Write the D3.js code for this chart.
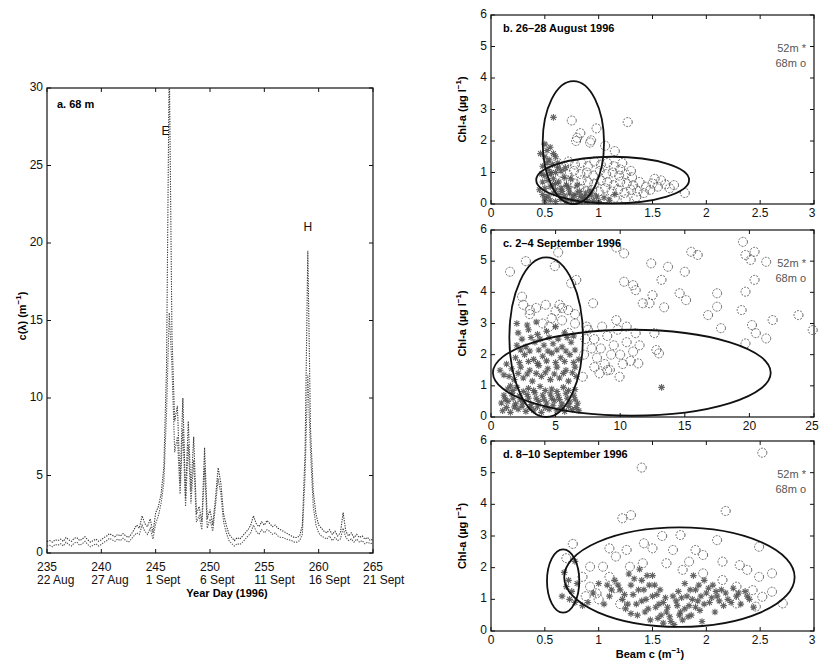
<!DOCTYPE html>
<html>
<head>
<meta charset="utf-8">
<script src="https://cdn.jsdelivr.net/npm/d3@7"></script>
<style>
  body { margin: 0; background: #fff; }
  svg { font-family: "Liberation Sans", Arial, sans-serif; }
</style>
</head>
<body>
<div id="chart"></div>
<script>
// ---- panel a: beam c at 68 m, two traces read every 6 h ----
const days = d3.range(235, 265.001, 0.25);
const traceUpper = [
  0.75, 0.8, 0.7, 0.85,   0.8, 0.9, 0.75, 1.0,    0.85, 0.75, 0.95, 1.0,
  0.8, 0.9, 1.05, 0.85,   0.7, 0.8, 0.9, 0.75,    0.85, 1.0, 1.1, 1.25,
  1.15, 1.05, 1.2, 1.1,   1.25, 1.1, 1.0, 1.2,    1.5, 1.8, 1.6, 2.4,
  1.9, 1.7, 2.2, 1.3,     2.6, 3.0, 3.8, 5.5,     12, 32, 14, 8.5,
  9.5, 4.5, 10, 3.5,      8.5, 4.0, 7.5, 2.5,     3.0, 2.0, 6.8, 2.2,
  2.8, 1.8, 3.5, 5.5,     4.5, 2.5, 1.8, 1.2,     1.0, 0.8, 1.0, 0.9,
  1.1, 1.3, 1.5, 1.8,     2.4, 1.9, 1.7, 2.0,     1.8, 2.1, 1.9, 1.7,
  1.8, 1.6, 1.5, 1.4,     1.3, 1.2, 1.1, 1.0,     1.0, 1.1, 1.8, 6.5,
  19.5, 8.0, 4.0, 2.5,    1.8, 1.6, 1.4, 1.3,     1.5, 1.2, 1.4, 1.1,
  1.3, 2.6, 1.4, 1.1,     1.3, 1.0, 1.2, 1.0,     1.1, 0.9, 1.0, 0.8,
  0.9
];
const traceLower = [
  0.45, 0.5, 0.4, 0.55,   0.5, 0.6, 0.45, 0.7,    0.55, 0.45, 0.65, 0.7,
  0.5, 0.6, 0.75, 0.55,   0.4, 0.5, 0.6, 0.45,    0.55, 0.7, 0.8, 0.95,
  0.85, 0.75, 0.9, 0.8,   0.95, 0.8, 0.7, 0.9,    1.1, 1.3, 1.2, 1.8,
  1.4, 1.2, 1.6, 0.9,     1.9, 2.4, 3.2, 4.5,     9, 15.5, 12, 6.5,
  7.5, 3.8, 8, 3.0,       7, 3.2, 6, 2.0,         2.4, 1.5, 5.5, 1.6,
  2.2, 1.4, 3, 4.8,       3.8, 2.0, 1.3, 0.8,     0.6, 0.45, 0.6, 0.55,
  0.7, 0.9, 1.1, 1.3,     1.8, 1.4, 1.2, 1.5,     1.3, 1.5, 1.4, 1.2,
  1.3, 1.1, 1.0, 1.0,     0.9, 0.85, 0.8, 0.7,    0.7, 0.8, 1.2, 5,
  11.5, 6.5, 3, 1.8,      1.3, 1.1, 1.0, 0.9,     1.1, 0.8, 1.0, 0.8,
  0.9, 1.6, 1.0, 0.8,     0.9, 0.7, 0.9, 0.7,     0.8, 0.6, 0.7, 0.6,
  0.65
];
const dayTicks = [235, 240, 245, 250, 255, 260, 265];
const dateLabels = ["22 Aug", "27 Aug", "1 Sept", "6 Sept", "11 Sept", "16 Sept", "21 Sept"];
const cTicks = [0, 5, 10, 15, 20, 25, 30];
const eventMarks = [{ label: "E", day: 245.9, value: 27 }, { label: "H", day: 259.0, value: 20.8 }];

// ---- panel b: 26-28 August ----
const bStars = [
  [0.5,1.9],[0.52,1.7],[0.55,1.8],[0.58,1.6],[0.5,1.5],[0.54,1.4],[0.6,1.5],[0.48,1.2],[0.53,1.1],
  [0.57,1.25],[0.62,1.3],[0.5,0.9],[0.55,0.95],[0.6,1.0],[0.65,1.05],[0.48,0.7],[0.53,0.75],[0.58,0.8],
  [0.63,0.7],[0.68,0.85],[0.5,0.5],[0.55,0.55],[0.6,0.45],[0.65,0.5],[0.7,0.6],[0.48,0.3],[0.53,0.25],
  [0.58,0.35],[0.63,0.3],[0.68,0.25],[0.73,0.35],[0.5,0.1],[0.55,0.12],[0.6,0.08],[0.65,0.15],[0.7,0.1],
  [0.75,0.12],[0.8,0.08],[0.85,0.15],[0.9,0.1],[0.95,0.12],[1.0,0.08],[0.78,0.3],[0.83,0.25],[0.88,0.35],
  [0.93,0.28],[0.58,2.75],
  [0.46,1.6],[0.52,1.3],[0.56,1.0],[0.6,0.65],[0.66,0.4],[0.72,0.5],[0.76,0.22],[0.82,0.4],[0.87,0.22],
  [0.92,0.42],[0.98,0.25],[1.05,0.2],[1.1,0.12],[1.15,0.3],[0.62,1.15],[0.47,0.95],[0.57,0.6],[0.69,1.15],
  [0.74,0.8],[0.8,0.6],[0.5,0.2],[0.45,0.45]
];
const bCircles = [
  [0.62,1.3],[0.68,1.2],[0.72,1.35],[0.78,1.25],[0.84,1.3],[0.9,1.2],[0.96,1.35],[1.02,1.25],[1.08,1.3],
  [1.14,1.2],[1.2,1.1],[0.65,1.0],[0.71,0.95],[0.77,1.05],[0.83,0.95],[0.89,1.0],[0.95,0.9],[1.01,1.05],
  [1.07,0.95],[1.13,1.0],[1.19,0.9],[1.25,0.95],[1.31,0.85],[0.66,0.7],[0.72,0.75],[0.78,0.65],[0.84,0.75],
  [0.9,0.7],[0.96,0.65],[1.02,0.75],[1.08,0.7],[1.14,0.6],[1.2,0.7],[1.26,0.65],[1.32,0.6],[1.38,0.7],
  [1.44,0.55],[0.7,0.45],[0.76,0.4],[0.82,0.5],[0.88,0.4],[0.94,0.45],[1.0,0.4],[1.06,0.5],[1.12,0.4],
  [1.18,0.45],[1.24,0.35],[1.3,0.45],[1.36,0.4],[1.42,0.35],[1.48,0.45],[0.75,0.2],[0.85,0.15],[0.95,0.22],
  [1.05,0.18],[1.15,0.2],[1.25,0.15],[1.35,0.22],
  [0.75,2.65],[1.27,2.6],[0.98,2.4],[0.83,2.25],[0.79,2.0],[0.8,2.1],[0.92,1.95],[0.93,2.02],[1.06,1.85],
  [1.15,1.68],[1.22,1.3],[1.3,1.05],[1.52,0.8],[1.58,0.75],[1.62,0.62],[1.66,0.5],[1.8,0.35],[1.55,0.55],
  [1.7,0.6],[1.5,0.65]
];
const bEllipses = [[0.765, 1.95, 0.285, 1.95], [1.13, 0.76, 0.71, 0.74]]; // cx, cy, rx, ry

// ---- panel c: 2-4 September ----
const cStars = [
  [0.9,0.2],[1.5,0.15],[2.1,0.25],[2.7,0.18],[3.3,0.22],[3.9,0.15],[4.5,0.25],[5.1,0.2],[5.7,0.18],
  [6.3,0.24],[6.8,0.2],[0.8,0.45],[1.3,0.5],[1.9,0.42],[2.5,0.48],[3.1,0.4],[3.7,0.5],[4.3,0.45],
  [4.9,0.52],[5.5,0.42],[6.1,0.48],[6.7,0.44],[1.0,0.7],[1.6,0.75],[2.2,0.68],[2.8,0.72],[3.4,0.78],
  [4.0,0.7],[4.6,0.74],[5.2,0.68],[5.8,0.76],[6.4,0.7],[1.3,0.9],[2.0,0.95],[2.9,0.92],[3.8,0.98],
  [4.7,0.9],[5.6,0.95],[6.5,0.88],
  [1.2,0.3],[1.8,0.32],[2.4,0.35],[3.0,0.3],[3.6,0.33],[4.2,0.3],[4.8,0.36],[5.4,0.3],[6.0,0.34],[6.6,0.3],
  [1.1,0.58],[1.7,0.6],[2.3,0.55],[2.9,0.6],[3.5,0.6],[4.1,0.57],[4.7,0.6],[5.3,0.56],[5.9,0.6],[6.5,0.57],
  [1.7,0.85],[2.5,0.82],[3.3,0.85],[4.2,0.85],[5.1,0.82],[6.0,0.85],
  [1.8,1.2],[2.5,1.25],[3.2,1.15],[3.9,1.3],[4.6,1.2],[5.3,1.25],[6.0,1.15],[6.6,1.3],
  [1.6,1.55],[2.3,1.6],[3.0,1.5],[3.7,1.65],[4.4,1.55],[5.1,1.6],[5.8,1.5],[6.5,1.6],
  [1.9,1.9],[2.6,2.0],[3.3,1.85],[4.0,1.95],[4.7,2.05],[5.4,1.9],[6.1,2.0],[6.8,1.85],
  [2.0,2.3],[2.7,2.25],[3.4,2.4],[4.1,2.3],[4.8,2.35],[5.5,2.25],[6.2,2.4],
  [2.1,2.7],[2.9,2.8],[3.6,2.65],[4.3,2.75],[5.0,2.9],[5.7,2.7],[6.4,2.6],
  [2.0,3.0],[2.8,2.95],[3.5,3.05],[0.7,1.5],[1.0,1.35],[1.2,1.7],[13.2,0.95],
  [2.1,1.4],[2.8,1.38],[3.5,1.4],[4.2,1.42],[4.9,1.38],[5.6,1.4],[6.3,1.42],[2.2,1.75],[2.9,1.78],
  [3.6,1.72],[4.3,1.8],[5.0,1.75],[5.7,1.78],[6.4,1.75],[2.3,2.15],[3.0,2.12],[3.7,2.15],[4.4,2.12],
  [5.1,2.15],[5.8,2.12],[6.5,2.15],[2.4,2.5],[3.1,2.55],[3.8,2.5],[4.5,2.55],[5.2,2.5],[5.9,2.55],
  [1.5,1.0],[1.4,1.3]
];
const cCircles = [
  [1.47,4.66],[2.7,5.0],[5.2,5.28],[4.94,4.84],[6.6,4.4],[6.2,4.29],[4.24,3.6],[5.3,3.6],[2.4,3.86],
  [3.0,3.43],[5.97,3.43],[7.9,3.65],[4.7,3.17],[7.4,2.9],[9.7,5.44],[10.3,5.25],[10.3,4.34],[11.0,4.23],
  [11.2,4.07],[11.75,3.65],[12.27,3.65],[12.5,3.91],[12.4,4.93],[13.2,4.4],[13.7,4.82],[13.4,3.52],
  [15.0,4.66],[14.6,3.97],[15.1,3.75],[15.5,5.3],[16.0,5.2],[16.8,3.27],[17.5,3.97],[17.5,3.54],
  [17.8,2.85],[19.5,5.62],[19.7,5.2],[20.1,5.04],[20.4,5.3],[21.3,4.98],[20.4,4.4],[19.7,4.02],
  [19.4,3.43],[20.2,2.95],[20.5,2.69],[21.3,2.52],[19.7,2.36],[21.8,3.11],[23.8,3.27],[24.9,2.79],
  [9.7,3.11],[10.5,2.9],[11.2,2.69],[12.65,2.69],[11.4,1.72],[13.0,2.04],[12.8,2.15],[9.95,1.29],
  [9.2,1.51],[8.4,1.4],[7.1,1.29],
  [7.5,2.8],[8,2.5],[8.5,2.2],[9,2.6],[9.5,2.3],[10,2.0],[10.5,2.4],[11,2.1],[8.2,1.9],[8.8,1.7],
  [9.3,2.0],[10.2,1.7],[7.8,2.2],[8.6,2.9],[9.8,2.8],[10.8,1.8],[11.5,2.3],[7.2,2.0],[8,1.6],[9,1.5],
  [7.3,2.5],[6.5,3.0],[6.0,2.7],[5.5,3.1],[4,3.0],[3,3.3],[2.5,3.6],[3.5,3.5],[5.5,3.5],[5,3.4],
  [6.5,3.3],[4.5,2.9]
];
const cEllipses = [[4.27, 2.56, 2.85, 2.56], [10.9, 1.42, 10.75, 1.38]];

// ---- panel d: 8-10 September ----
const dStars = [
  [0.68,1.85],[0.72,1.6],[0.7,1.4],[0.75,1.25],[0.66,1.1],[0.73,1.0],[0.78,0.9],[0.8,1.5],[0.78,2.2],
  [1.15,1.6],[1.2,1.3],[1.22,1.0],[1.25,0.7],[1.28,1.8],[1.3,1.45],[1.32,1.15],[1.35,0.85],[1.36,0.5],
  [1.38,1.95],[1.4,1.6],[1.42,1.3],[1.44,1.0],[1.46,0.7],[1.48,0.35],[1.5,1.75],[1.52,1.45],[1.54,1.15],
  [1.56,0.85],[1.58,0.5],[1.6,0.25],[1.62,1.05],[1.64,0.75],[1.66,0.45],[1.7,0.2],[1.72,0.95],[1.74,1.25],
  [1.76,0.6],[1.78,0.35],[1.8,1.5],[1.82,1.1],[1.84,0.8],[1.86,0.5],[1.88,1.75],[1.9,1.3],[1.92,0.95],
  [1.94,0.65],[1.96,0.3],[1.98,1.6],[2.0,1.2],[2.03,0.9],[2.06,1.45],[2.08,0.6],[2.1,1.1],[2.14,1.3],
  [2.16,0.8],[2.2,1.0],[2.25,1.35],[2.28,1.1],[2.32,0.85],[2.36,1.25],[2.4,1.0],[2.44,0.75],[1.1,1.1],
  [1.05,0.85],[0.95,1.2],[0.9,0.9],[0.85,0.8],[1.0,1.5],
  [1.18,1.45],[1.24,1.15],[1.27,0.85],[1.3,0.55],[1.33,1.65],[1.37,1.3],[1.4,0.95],[1.43,0.6],[1.45,1.75],
  [1.47,1.45],[1.5,1.1],[1.53,0.75],[1.55,0.4],[1.57,1.3],[1.6,0.9],[1.63,0.6],[1.67,0.3],[1.69,1.1],
  [1.73,0.8],[1.75,0.5],[1.77,1.05],[1.8,0.7],[1.83,0.45],[1.85,1.3],[1.87,1.0],[1.9,0.75],[1.93,1.45],
  [1.95,1.1],[1.98,0.85],[2.02,1.35],[2.05,1.05],[2.09,1.25],[2.12,0.95],[2.18,1.2],[2.23,0.9],[2.3,1.2],
  [2.38,1.1],[1.12,1.3],[1.08,1.45]
];
const dCircles = [
  [2.52,5.63],[1.40,5.16],[1.22,3.56],[1.30,3.66],[2.18,3.79],[1.59,3.0],[1.76,3.03],[1.42,2.77],
  [2.10,2.87],[2.49,2.66],[0.76,2.75],[0.70,2.3],[1.10,2.61],[1.16,2.35],[1.26,2.56],[1.50,2.61],
  [1.69,2.56],[1.90,2.56],[1.97,2.4],[1.84,2.19],[2.15,2.19],[2.31,2.08],[2.38,1.93],[2.49,1.71],
  [2.61,1.82],[2.61,1.24],[2.71,0.87],[1.04,2.03],[0.92,2.03],[0.85,1.71],[0.92,1.40],[0.98,1.19],
  [1.10,1.71],[1.29,2.03],[1.41,2.14],[1.63,2.14],[1.78,1.93],[1.97,1.82],[2.15,1.61],[2.28,1.40],
  [2.43,1.29],[2.52,1.08],[2.28,0.87],[2.46,0.77],[1.0,1.0],[1.15,1.35],[1.2,0.85],[0.88,1.1]
];
const dEllipses = [[0.67, 1.58, 0.15, 1.0], [1.75, 1.7, 1.07, 1.57]];

const beamTicks = [0, 0.5, 1, 1.5, 2, 2.5, 3];
const beamTicksWide = [0, 5, 10, 15, 20, 25];
const chlTicks = [0, 1, 2, 3, 4, 5, 6];

const width = 819, height = 664;
const svg = d3.select("#chart").append("svg")
  .attr("width", width).attr("height", height);

const ink = "#111";
const tickLen = 4;

// inward ticks on all four sides, MATLAB style
function frame(g, x, y, xt, yt) {
  const [x0, x1] = x.range(), [y0, y1] = y.range();
  g.append("rect").attr("x", x0).attr("y", y1).attr("width", x1 - x0).attr("height", y0 - y1)
    .attr("fill", "none").attr("stroke", ink).attr("stroke-width", 1.2);
  xt.forEach(t => {
    g.append("line").attr("x1", x(t)).attr("x2", x(t)).attr("y1", y0).attr("y2", y0 - tickLen).attr("stroke", ink);
    g.append("line").attr("x1", x(t)).attr("x2", x(t)).attr("y1", y1).attr("y2", y1 + tickLen).attr("stroke", ink);
  });
  yt.forEach(t => {
    g.append("line").attr("x1", x0).attr("x2", x0 + tickLen).attr("y1", y(t)).attr("y2", y(t)).attr("stroke", ink);
    g.append("line").attr("x1", x1).attr("x2", x1 - tickLen).attr("y1", y(t)).attr("y2", y(t)).attr("stroke", ink);
  });
  g.selectAll(".ylab").data(yt).join("text")
    .attr("x", x0 - 4).attr("y", d => y(d) + 3)
    .attr("text-anchor", "end").attr("font-size", 12).attr("fill", ink)
    .text(d => d);
}

// ---------- panel a ----------
const xa = d3.scaleLinear().domain([235, 265]).range([47, 373]);
const ya = d3.scaleLinear().domain([0, 30]).range([553, 88]);
const ga = svg.append("g");

svg.append("clipPath").attr("id", "clipA").append("rect")
  .attr("x", 47).attr("y", 88).attr("width", 326).attr("height", 465);

const line = d3.line().x((d, i) => xa(days[i])).y(d => ya(d));
[traceUpper, traceLower].forEach((tr, k) => {
  ga.append("path").datum(tr)
    .attr("clip-path", "url(#clipA)")
    .attr("d", line)
    .attr("fill", "none")
    .attr("stroke", k === 0 ? "#333" : "#555")
    .attr("stroke-width", 1.1)
    .attr("stroke-dasharray", "1.3,1.2");
});

frame(ga, xa, ya, dayTicks, cTicks);

const xlab = ga.selectAll(".xlab").data(dayTicks).join("text")
  .attr("font-size", 12).attr("fill", ink);
xlab.append("tspan").attr("x", d => xa(d) - 10).attr("y", 571).text(d => d);
xlab.append("tspan").attr("x", d => xa(d) - 10).attr("y", 584).text((d, i) => dateLabels[i]);

ga.append("text").attr("x", 227).attr("y", 597).attr("text-anchor", "middle")
  .attr("font-size", 11).attr("font-weight", "bold").text("Year Day (1996)");

ga.append("text").attr("transform", "translate(26,316) rotate(-90)")
  .attr("text-anchor", "middle").attr("font-size", 11).attr("font-weight", "bold")
  .html('c(λ) (m<tspan dy="-5" font-size="8">−1</tspan><tspan dy="5">)</tspan>');

ga.append("text").attr("x", 57).attr("y", 108).attr("font-size", 11)
  .attr("font-weight", "bold").text("a. 68 m");

ga.selectAll(".ev").data(eventMarks).join("text")
  .attr("x", d => xa(d.day)).attr("y", d => ya(d.value))
  .attr("text-anchor", "middle").attr("font-size", 12).attr("fill", ink)
  .text(d => d.label);

// ---------- scatter panels ----------
const starPath = "M-3.3,0L3.3,0M0,-3.3L0,3.3M-2.4,-2.4L2.4,2.4M-2.4,2.4L2.4,-2.4";

function scatterPanel(o) {
  const x = d3.scaleLinear().domain(o.xDomain).range([491, 814]);
  const y = d3.scaleLinear().domain([0, 6]).range([o.bottom, o.top]);
  const g = svg.append("g");

  g.selectAll(".c68").data(o.circles).join("circle")
    .attr("cx", d => x(d[0])).attr("cy", d => y(d[1])).attr("r", 4.5)
    .attr("fill", "none").attr("stroke", "#555").attr("stroke-width", 0.9)
    .attr("stroke-dasharray", "2,1.2");

  g.selectAll(".s52").data(o.stars).join("path")
    .attr("transform", d => `translate(${x(d[0])},${y(d[1])})`)
    .attr("d", starPath)
    .attr("stroke", "#4a4a4a").attr("stroke-width", 1.1).attr("opacity", 0.85);

  g.selectAll(".ell").data(o.ellipses).join("ellipse")
    .attr("cx", d => x(d[0])).attr("cy", d => y(d[1]))
    .attr("rx", d => x(d[0] + d[2]) - x(d[0]))
    .attr("ry", d => y(d[1] - d[3]) - y(d[1]))
    .attr("fill", "none").attr("stroke", ink).attr("stroke-width", 1.8);

  frame(g, x, y, o.xTicks, chlTicks);

  g.selectAll(".xl").data(o.xTicks).join("text")
    .attr("x", d => Math.min(x(d), 812)).attr("y", o.bottom + 13)
    .attr("text-anchor", "middle").attr("font-size", 12).attr("fill", ink)
    .text(d => d);

  g.append("text").attr("x", 503).attr("y", o.top + 17)
    .attr("font-size", 11).attr("font-weight", "bold").text(o.title);

  g.append("text").attr("x", 806).attr("y", o.top + 37).attr("text-anchor", "end")
    .attr("font-size", 11).attr("fill", "#555").text("52m *");
  g.append("text").attr("x", 806).attr("y", o.top + 52).attr("text-anchor", "end")
    .attr("font-size", 11).attr("fill", "#555").text("68m o");

  g.append("text")
    .attr("transform", `translate(466,${(o.top + o.bottom) / 2}) rotate(-90)`)
    .attr("text-anchor", "middle").attr("font-size", 11).attr("font-weight", "bold")
    .html('Chl-a (µg l<tspan dy="-5" font-size="8">−1</tspan><tspan dy="5">)</tspan>');
}

scatterPanel({ xDomain: [0, 3], top: 15, bottom: 204, xTicks: beamTicks,
  title: "b. 26–28 August 1996", stars: bStars, circles: bCircles, ellipses: bEllipses });
scatterPanel({ xDomain: [0, 25], top: 230, bottom: 417, xTicks: beamTicksWide,
  title: "c. 2–4 September 1996", stars: cStars, circles: cCircles, ellipses: cEllipses });
scatterPanel({ xDomain: [0, 3], top: 441, bottom: 631, xTicks: beamTicks,
  title: "d. 8–10 September 1996", stars: dStars, circles: dCircles, ellipses: dEllipses });

svg.append("text").attr("x", 650).attr("y", 658).attr("text-anchor", "middle")
  .attr("font-size", 11).attr("font-weight", "bold")
  .html('Beam c (m<tspan dy="-5" font-size="8">−1</tspan><tspan dy="5">)</tspan>');
</script>
</body>
</html>
